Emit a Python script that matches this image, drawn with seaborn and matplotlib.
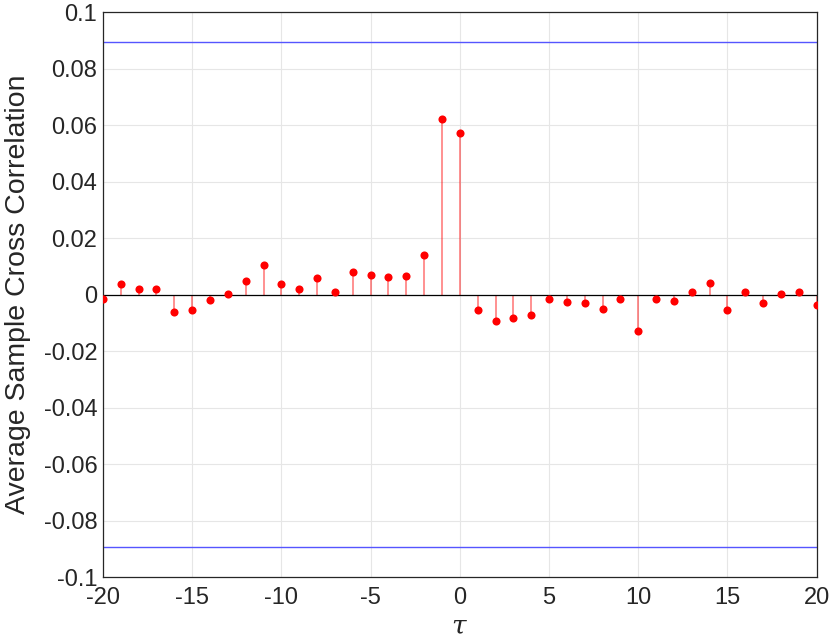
import numpy as np
import pandas as pd
import matplotlib
matplotlib.use("Agg")
import matplotlib.pyplot as plt
import seaborn as sns

# lag values and average sample cross correlation
lags = list(range(-20, 21))
xcorr = [-0.0015, 0.0037, 0.0020, 0.0020, -0.0060, -0.0054, -0.0020, 0.0004,
         0.0049, 0.0105, 0.0037, 0.0020, 0.0059, 0.0008, 0.0082, 0.0071,
         0.0061, 0.0066, 0.0140, 0.0623, 0.0571,
         -0.0055, -0.0094, -0.0083, -0.0071, -0.0014, -0.0026, -0.0031, -0.0049,
         -0.0014, -0.0129, -0.0014, -0.0021, 0.0008, 0.0043, -0.0055, 0.0008,
         -0.0031, 0.0002, 0.0008, -0.0037]
conf_bound = 0.0894
xticks = [-20, -15, -10, -5, 0, 5, 10, 15, 20]
yticks = [-0.1, -0.08, -0.06, -0.04, -0.02, 0, 0.02, 0.04, 0.06, 0.08, 0.1]

df = pd.DataFrame({"lag": lags, "xcorr": xcorr})

sns.set_theme(style="whitegrid")
plt.rcParams["font.family"] = ["Liberation Sans", "DejaVu Sans"]
plt.rcParams["mathtext.fontset"] = "dejavuserif"

fig = plt.figure(figsize=(8.3, 6.4), dpi=100)
ax = fig.add_axes([0.124, 0.098, 0.860, 0.883])

# stems + baseline
ax.vlines(df["lag"], 0, df["xcorr"], color="red", alpha=0.55, lw=1.1, zorder=2)
ax.axhline(0, color="black", lw=0.9, zorder=2)
sns.scatterplot(data=df, x="lag", y="xcorr", color="red", s=34, edgecolor="red",
                linewidth=0, ax=ax, zorder=3)

# confidence bounds
ax.axhline(conf_bound, color="#5555ff", lw=1.0, zorder=2)
ax.axhline(-conf_bound, color="#5555ff", lw=1.0, zorder=2)

ax.set_xlim(-20, 20)
ax.set_ylim(-0.1, 0.1)
ax.set_xticks(xticks)
ax.set_xticklabels([str(t) for t in xticks])
ax.set_yticks(yticks)
ax.set_yticklabels([f"{t:g}" for t in yticks])
ax.tick_params(axis="both", labelsize=17, colors="#262626", direction="in",
               length=5, width=0.8, pad=4)
ax.tick_params(axis="x", pad=7)
ax.grid(True, color="#e6e6e6", lw=0.8)
for s in ax.spines.values():
    s.set_color("#262626")
    s.set_linewidth(0.9)

ax.set_xlabel(r"$\tau$", fontsize=19, color="#262626", labelpad=4)
ax.set_ylabel("Average Sample Cross Correlation", fontsize=20.5, color="#262626", labelpad=9)

fig.savefig("out.png", dpi=100)
